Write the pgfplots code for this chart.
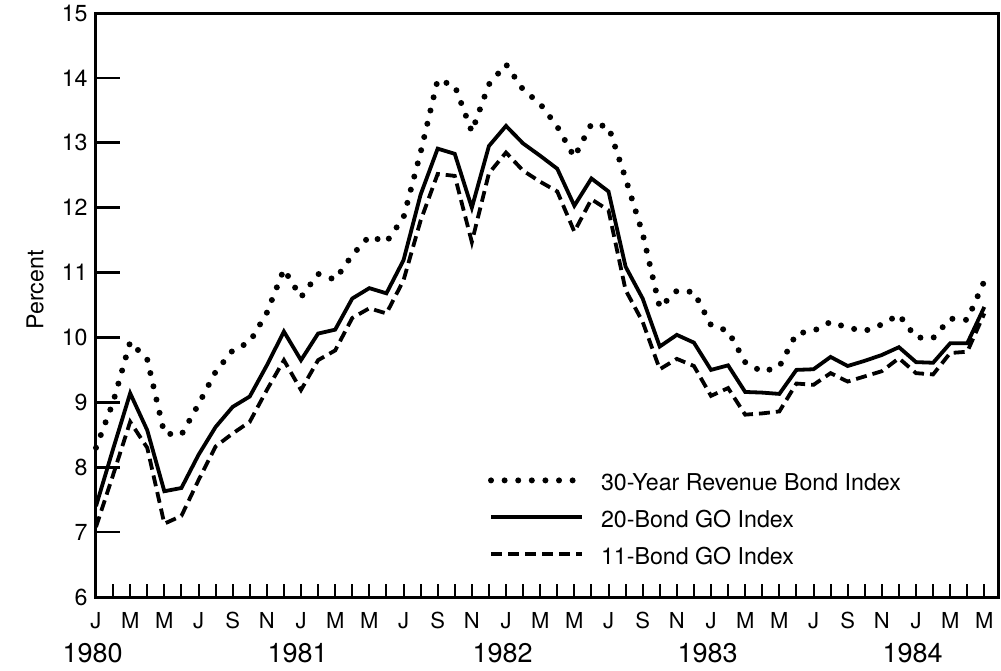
\documentclass[border=0pt]{standalone}
\usepackage{pgfplots}
\pgfplotsset{compat=1.18}
\usepackage{pgfplotstable}
\usepackage{fontspec}
\setmainfont{TeX Gyre Heros}

\pgfplotstableread{
m solid dashed dotted
0 7.40 7.08 8.30
1 8.28 7.88 9.00
2 9.14 8.70 9.93
3 8.57 8.30 9.66
4 7.63 7.13 8.52
5 7.68 7.25 8.50
6 8.19 7.80 8.97
7 8.62 8.32 9.47
8 8.93 8.52 9.80
9 9.09 8.70 9.93
10 9.57 9.19 10.38
11 10.09 9.65 11.05
12 9.65 9.19 10.62
13 10.06 9.65 10.98
14 10.12 9.80 10.89
15 10.60 10.30 11.27
16 10.76 10.45 11.56
17 10.68 10.37 11.47
18 11.19 10.88 11.85
19 12.20 11.80 12.85
20 12.91 12.52 13.97
21 12.83 12.49 13.88
22 12.00 11.47 13.17
23 12.95 12.53 13.90
24 13.26 12.85 14.21
25 12.99 12.57 13.82
26 12.80 12.40 13.60
27 12.60 12.25 13.25
28 12.03 11.63 12.78
29 12.45 12.13 13.29
30 12.25 11.96 13.25
31 11.09 10.73 12.45
32 10.60 10.24 11.60
33 9.86 9.51 10.46
34 10.04 9.67 10.72
35 9.92 9.56 10.70
36 9.50 9.10 10.19
37 9.57 9.22 10.10
38 9.16 8.81 9.62
39 9.15 8.83 9.47
40 9.13 8.86 9.55
41 9.50 9.29 10.06
42 9.51 9.27 10.10
43 9.70 9.45 10.24
44 9.56 9.32 10.15
45 9.64 9.40 10.10
46 9.73 9.48 10.20
47 9.85 9.68 10.35
48 9.62 9.45 10.00
49 9.61 9.43 9.99
50 9.91 9.76 10.29
51 9.91 9.78 10.27
52 10.47 10.37 10.87
}\datatable

\begin{document}
\begin{tikzpicture}
\begin{axis}[
  name=ax,
  at={(0pt,0pt)}, anchor=south west,
  width=451pt, height=292pt, scale only axis,
  xmin=0, xmax=52.8, ymin=6, ymax=15,
  clip=false,
  axis line style={line width=1.5pt},
  tick align=inside,
  xtick pos=bottom,
  major tick length=6.5pt,
  xtick={0,1,...,52},
  xticklabels={J,,M,,M,,J,,S,,N,,J,,M,,M,,J,,S,,N,,J,,M,,M,,J,,S,,N,,J,,M,,M,,J,,S,,N,,J,,M,,M},
  xtick style={line width=1pt, black},
  ytick={6,7,...,15},
  ytick style={draw=none},
  unbounded coords=jump,
  /pgf/number format/assume math mode=true,
  yticklabel style={font=\fontsize{11.6}{13}\selectfont, inner sep=0pt, anchor=east, xshift=-4pt},
  xticklabel style={font=\fontsize{11}{13}\selectfont, inner sep=0pt, anchor=north, yshift=-7.5pt},
  legend style={draw=none, fill=none, inner sep=0pt, outer sep=0pt,
    at={(0.4346,0.2115)}, anchor=north west,
    font=\fontsize{11.6}{13}\selectfont,
    row sep=10pt, column sep=8pt,
    nodes={inner sep=0pt, text height=8.5pt, text depth=0pt}},
  legend cell align=left,
  legend image code/.code={\draw[#1] (0pt,0.8pt) -- (45.5pt,0.8pt);},
]
\addplot[black, line width=3pt, line cap=round, line join=round, dash pattern=on 0pt off 6.8pt] table[x=m, y=dotted] {\datatable};
\addlegendentry{30-Year Revenue Bond Index}
\addplot[black, line width=1.9pt, line join=miter] table[x=m, y=solid] {\datatable};
\addlegendentry{20-Bond GO Index}
\addplot[black, line width=1.9pt, dash pattern=on 5.5pt off 3pt] table[x=m, y=dashed] {\datatable};
\addlegendentry{11-Bond GO Index}
\addplot[black, line width=1.3pt, forget plot] coordinates {
  (0,7) (1.4,7) (nan,nan)
  (0,8) (1.4,8) (nan,nan)
  (0,9) (1.4,9) (nan,nan)
  (0,10) (1.4,10) (nan,nan)
  (0,11) (1.4,11) (nan,nan)
  (0,12) (1.4,12) (nan,nan)
  (0,13) (1.4,13) (nan,nan)
  (0,14) (1.4,14)
};
\node[font=\fontsize{13.5}{15}\selectfont] at (axis cs:-0.2,6) [yshift=-28pt] {1980};
\node[font=\fontsize{13.5}{15}\selectfont] at (axis cs:11.8,6) [yshift=-28pt] {1981};
\node[font=\fontsize{13.5}{15}\selectfont] at (axis cs:23.8,6) [yshift=-28pt] {1982};
\node[font=\fontsize{13.5}{15}\selectfont] at (axis cs:35.8,6) [yshift=-28pt] {1983};
\node[font=\fontsize{13.5}{15}\selectfont] at (axis cs:47.8,6) [yshift=-28pt] {1984};
\node[font=\fontsize{11.6}{13}\selectfont, rotate=90] at ([xshift=-30.5pt]rel axis cs:0,0.526) {Percent};
\end{axis}
\path (-48pt,-36.5pt) rectangle (452.5pt,298.5pt);
\end{tikzpicture}
\end{document}
